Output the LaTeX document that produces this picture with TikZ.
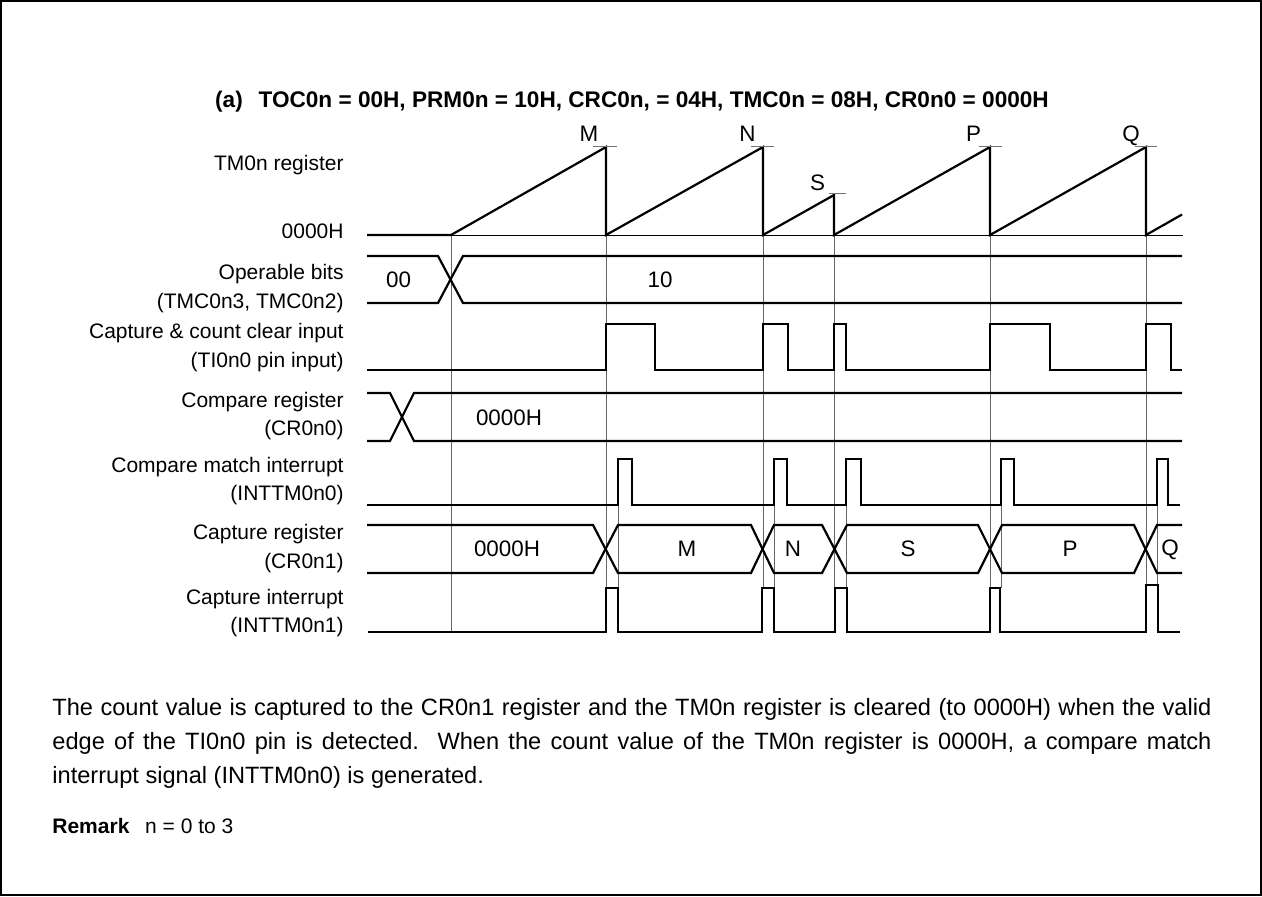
\documentclass[tikz,border=0pt]{standalone}
\usepackage{fontspec}
\setmainfont{Liberation Sans}
\begin{document}
\begin{tikzpicture}[x=0.5pt,y=-0.5pt,
  every node/.style={font=\fontsize{10.5}{17}\selectfont, inner sep=0pt},
  sig/.style={line width=1.1pt, line join=miter},
  guide/.style={line width=0.45pt, black!60},
  tickmark/.style={line width=0.5pt, black!55},
  lab/.style={anchor=base east},
  val/.style={anchor=center, font=\fontsize{11.2}{17}\selectfont},
  body/.style={font=\fontsize{11.8}{17}\selectfont}]
\useasboundingbox (0,0) rectangle (1262,896);
\draw[line width=1.1pt] (1.2,1.2) rectangle (1260.8,894.8);

% title
\node[anchor=base, font=\fontsize{11.3}{17}\selectfont\bfseries] (title) at (632,107)
  {(a)\hspace{0.7em}TOC0n = 00H, PRM0n = 10H, CRC0n, = 04H, TMC0n = 08H, CR0n0 = 0000H};

% left labels
\node[lab] (l1) at (344,170.5) {TM0n register};
\node[lab] (l2) at (344,238.5) {0000H};
\node[lab] (l3a) at (344,279) {Operable bits};
\node[lab] (l3b) at (344,308) {(TMC0n3, TMC0n2)};
\node[lab] (l4a) at (344,338.5) {Capture \& count clear input};
\node[lab] (l4b) at (344,367) {(TI0n0 pin input)};
\node[lab] (l5a) at (344,407) {Compare register};
\node[lab] (l5b) at (344,435.5) {(CR0n0)};
\node[lab] (l6a) at (344,472) {Compare match interrupt};
\node[lab] (l6b) at (344,500.5) {(INTTM0n0)};
\node[lab] (l7a) at (344,539) {Capture register};
\node[lab] (l7b) at (344,568) {(CR0n1)};
\node[lab] (l8a) at (344,604) {Capture interrupt};
\node[lab] (l8b) at (344,632) {(INTTM0n1)};

% guide lines
\draw[guide] (451,235) -- (451,632);
\foreach \x in {606,763,834,990,1146} \draw[guide] (\x,235) -- (\x,588);
\foreach \x in {618,774,846,1001,1157} \draw[guide] (\x,505) -- (\x,588);

% TM0n register
\draw[line width=0.5pt] (451,235) -- (1183,235);
\draw[sig] (367,235) -- (451,235) -- (606,147) -- (606,235) -- (763,147) -- (763,235)
  -- (834,195) -- (834,235) -- (990,147) -- (990,235) -- (1146,147) -- (1146,235) -- (1182,214.5);
\draw[tickmark] (593,146.5) -- (617,146.5);
\draw[tickmark] (751,146.5) -- (774,146.5);
\draw[tickmark] (829,193.5) -- (846,193.5);
\draw[tickmark] (979,146.5) -- (1002,146.5);
\draw[tickmark] (1135,146.5) -- (1157,146.5);
\node[val] (tM) at (589,134) {M};
\node[val] (tN) at (747.5,134) {N};
\node[val] (tS) at (817.5,182.5) {S};
\node[val] (tP) at (973.5,134) {P};
\node[val] (tQ) at (1131,135.5) {Q};

% Operable bits
\draw[sig] (367,256) -- (438,256) -- (463,303) -- (1182,303);
\draw[sig] (367,303) -- (438,303) -- (463,256) -- (1182,256);
\node[val] (v00) at (398.5,280) {00};
\node[val] (v10) at (660,280) {10};

% TI0n0 input
\draw[sig] (367,370) -- (606,370) -- (606,324) -- (655,324) -- (655,370) -- (763,370) -- (763,324)
  -- (788,324) -- (788,370) -- (834,370) -- (834,324) -- (846,324) -- (846,370) -- (990,370)
  -- (990,324) -- (1050,324) -- (1050,370) -- (1146,370) -- (1146,324) -- (1171,324) -- (1171,370) -- (1182,370);

% Compare register
\draw[sig] (367,393) -- (390,393) -- (414,441) -- (1182,441);
\draw[sig] (367,441) -- (390,441) -- (414,393) -- (1182,393);
\node[val] (vcr0) at (509,418) {0000H};

% Compare match interrupt
\draw[sig] (367,505) -- (618,505) -- (618,459) -- (632,459) -- (632,505) -- (774,505) -- (774,459)
  -- (787,459) -- (787,505) -- (846,505) -- (846,459) -- (861,459) -- (861,505) -- (1001,505)
  -- (1001,459) -- (1014,459) -- (1014,505) -- (1157,505) -- (1157,459) -- (1168,459) -- (1168,505) -- (1180,505);

% Capture register
\draw[sig] (367,525) -- (593,525) -- (618,573) -- (751,573) -- (774,525) -- (822,525) -- (847,573)
  -- (978,573) -- (1002,525) -- (1134,525) -- (1157,573) -- (1182,573);
\draw[sig] (367,573) -- (593,573) -- (618,525) -- (751,525) -- (774,573) -- (822,573) -- (847,525)
  -- (978,525) -- (1002,573) -- (1134,573) -- (1157,525) -- (1182,525);
\node[val] (vc0) at (507,549) {0000H};
\node[val] (vcM) at (687,549) {M};
\node[val] (vcN) at (793,549) {N};
\node[val] (vcS) at (908,549) {S};
\node[val] (vcP) at (1070,549) {P};
\node[val] (vcQ) at (1170,550) {Q};

% Capture interrupt
\draw[sig] (368,632) -- (606,632) -- (606,588) -- (618,588) -- (618,632) -- (762,632) -- (762,588)
  -- (774,588) -- (774,632) -- (835,632) -- (835,588) -- (847,588) -- (847,632) -- (990,632)
  -- (990,588) -- (1000,588) -- (1000,632) -- (1146,632) -- (1146,585) -- (1158,585) -- (1158,632) -- (1180,632);

% description
\node[body, anchor=north west, text width=579.5pt, align=justify] (desc) at (52,698)
  {The count value is captured to the CR0n1 register and the TM0n register is cleared (to 0000H) when the valid\linebreak
   edge of the TI0n0 pin is detected.\ \ When the count value of the TM0n register is 0000H, a compare match\linebreak
   interrupt signal (INTTM0n0) is generated.};
\node[anchor=base west] (rem) at (52,833) {\textbf{Remark}\hspace{0.75em}n = 0 to 3};
\end{tikzpicture}
\end{document}
